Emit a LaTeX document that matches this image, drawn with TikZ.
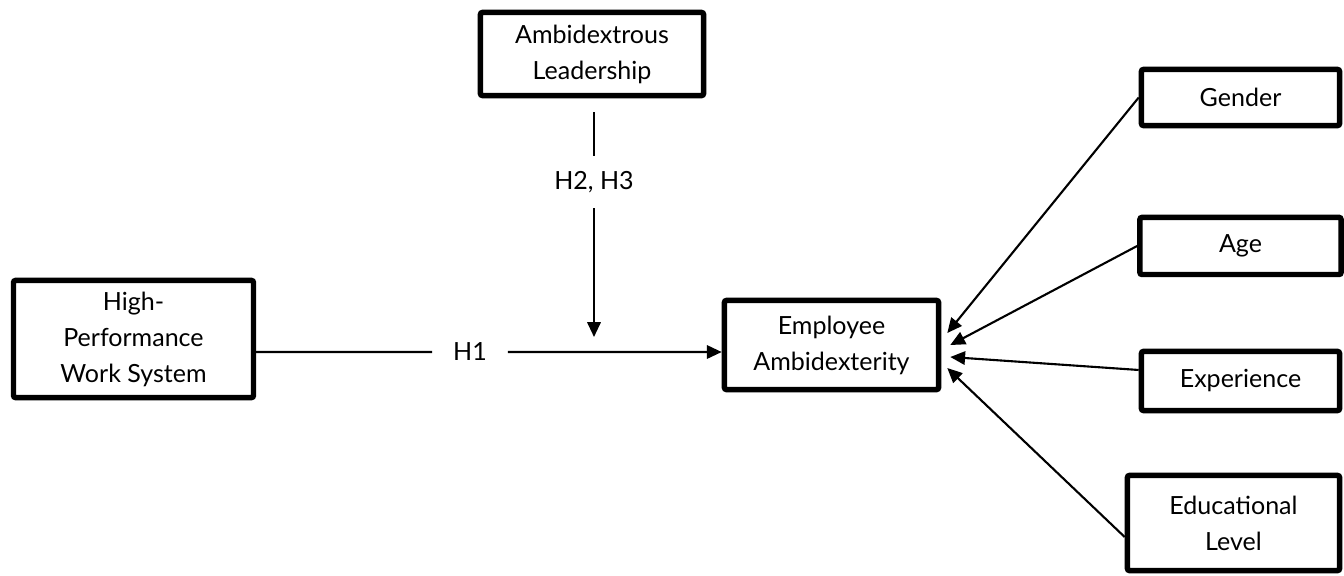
\documentclass[tikz,border=0pt]{standalone}
\usepackage{fontspec}
\setmainfont{Lato}
\usetikzlibrary{positioning,arrows.meta,calc}

\tikzset{
  var/.style={draw, line width=3.8pt, rounded corners=1.5pt, align=center,
    inner sep=0pt, font=\fontsize{17.8}{25.6}\selectfont},
  hyp/.style={inner sep=0pt, font=\fontsize{17.8}{21}\selectfont},
  link/.style={line width=1.5pt, -{Triangle[length=10.5pt,width=9.5pt]}},
}

\begin{document}
\begin{tikzpicture}[x=0.025cm, y=-0.025cm, node distance=3.7cm, on grid]
   \useasboundingbox (0,0) rectangle (1344,575);

   \node[var, minimum width=6.0cm, minimum height=2.93cm] (hpws) at (133.5,339)
      {High-\\Performance\\Work System};
   \node[var, minimum width=5.58cm, minimum height=2.08cm] (amb_lead) at (592,54)
      {Ambidextrous\\Leadership};
   \node[var, minimum width=5.355cm, minimum height=2.23cm] (emp_amb) at (831.5,345)
      {Employee\\Ambidexterity};

   \node[var, minimum width=4.955cm, minimum height=1.405cm] (c_gender) at (1240.5,97.5) {Gender};
   \node[var, minimum width=5.03cm, minimum height=1.43cm] (c_age) [below=3.71cm of c_gender] {Age};
   \node[var, minimum width=4.955cm, minimum height=1.48cm] (c_exp) [below=3.375cm of c_age] {Experience};
   \node[var, minimum width=5.305cm, minimum height=2.38cm] (c_edu) at (1233.5,523)
      {Educational\\Level};

   % hypotheses
   \node[hyp, minimum width=1.875cm] (h_1) at (470,352) {H1};
   \node[hyp, minimum height=1.3cm] (h_23) at (594,182) {H2, H3};
   \coordinate (mod) at (594,337);

   \draw[line width=1.5pt] ([yshift=-0.325cm]hpws.east) -- (h_1);
   \draw[link] (h_1) -- ([yshift=-0.175cm]emp_amb.west);
   \draw[line width=1.5pt, shorten <=0.35cm] (amb_lead.south -| h_23) -- (h_23);
   \draw[link] (h_23) -- (mod);

   % controls
   \draw[link] (c_gender.west) -- ($(emp_amb.east)+(6,-12)$);
   \draw[link] (c_age.west) -- ($(emp_amb.east)+(9,0)$);
   \draw[link] ($(c_exp.west)+(0,-11)$) -- ($(emp_amb.east)+(9,12)$);
   \draw[link] ($(c_edu.west)+(0,14)$) -- ($(emp_amb.east)+(6,23)$);
\end{tikzpicture}
\end{document}
